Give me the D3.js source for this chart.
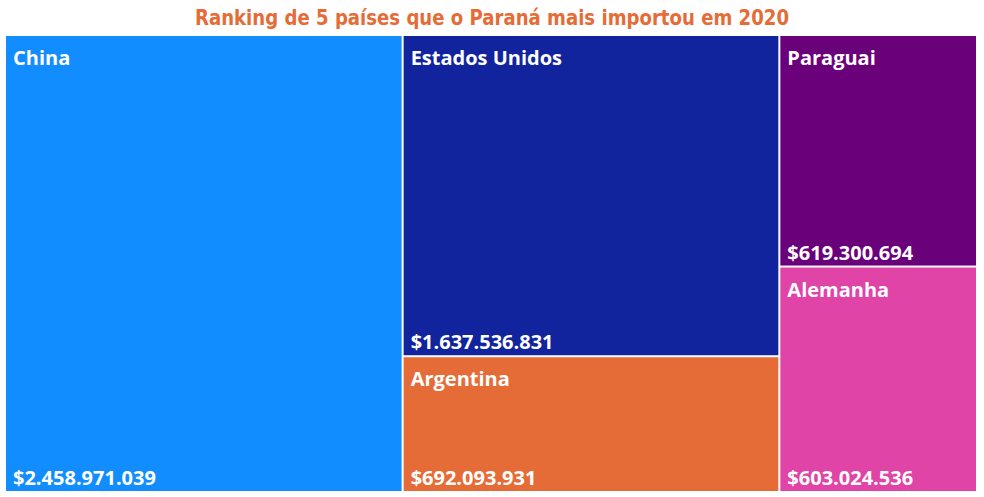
<!DOCTYPE html>
<html><head><meta charset="utf-8">
<script src="https://cdn.jsdelivr.net/npm/d3@7"></script>
<style>body{margin:0;background:#fff}svg{display:block}</style>
</head><body>
<svg id="c" width="984" height="497"></svg>
<script>
const countries = ["China","Estados Unidos","Argentina","Paraguai","Alemanha"];
const values = [2458971039,1637536831,692093931,619300694,603024536];
const colors = ["#118DFF","#12239E","#E66C37","#6B007B","#E044A7"];
const valueLabels = ["$2.458.971.039","$1.637.536.831","$692.093.931","$619.300.694","$603.024.536"];
const title = "Ranking de 5 países que o Paraná mais importou em 2020";

const svg = d3.select("#c");
svg.append("text").attr("x",195).attr("y",25).attr("text-anchor","start")
  .attr("font-family","'DejaVu Sans Condensed','DejaVu Sans'").attr("font-weight","bold")
  .attr("font-size",22).attr("fill","#E66C37").attr("textLength",594).attr("lengthAdjust","spacingAndGlyphs")
  .text(title);

const data = {children: countries.map((c,i)=>({name:c,value:values[i],color:colors[i],label:valueLabels[i]}))};
const root = d3.hierarchy(data).sum(d=>d.value||0).sort((a,b)=>b.value-a.value);
d3.treemap().tile(d3.treemapSquarify).size([970,455]).paddingInner(2)(root);

const g = svg.append("g").attr("transform","translate(6,36)");
const cell = g.selectAll("g").data(root.leaves()).join("g")
  .attr("transform",d=>`translate(${d.x0},${d.y0})`);
cell.append("rect").attr("width",d=>d.x1-d.x0).attr("height",d=>d.y1-d.y0).attr("fill",d=>d.data.color);
const font = "'Open Sans','Noto Sans',sans-serif";
cell.append("text").attr("x",7).attr("y",29).attr("fill","#fff").attr("font-family",font)
  .attr("font-weight","bold").attr("font-size",20).text(d=>d.data.name);
cell.append("text").attr("x",7).attr("y",d=>d.y1-d.y0-6).attr("fill","#fff").attr("font-family",font)
  .attr("font-weight","bold").attr("font-size",20).text(d=>d.data.label);
</script>
</body></html>
